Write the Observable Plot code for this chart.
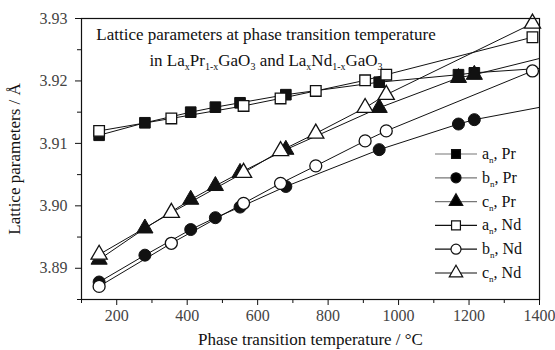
<!DOCTYPE html>
<html><head><meta charset="utf-8">
<script src="https://cdn.jsdelivr.net/npm/d3@7"></script>
<script src="https://cdn.jsdelivr.net/npm/@observablehq/plot@0.6"></script>
<style>
body{margin:0;background:#fff;}
#wrap{position:relative;width:555px;height:350px;font-family:"Liberation Serif","Times New Roman",serif;color:#111;}
#title{position:absolute;left:82px;width:368px;top:22px;text-align:center;font-size:17px;line-height:26px;white-space:nowrap;}
#title sub{font-size:10px;vertical-align:-4px;line-height:0;}
#legend{position:absolute;left:0;top:0;pointer-events:none;}
</style>
</head><body>
<div id="wrap"><div id="chart"></div><div id="title"></div><svg id="legend" width="555" height="350"></svg></div>
<script>
// ---- data ----
// La_xPr_(1-x)GaO3 (last temperature lies beyond the axis; line only)
const tempPr = [150, 280, 410, 480, 550, 680, 945, 1170, 1215, 1450];
const aPr    = [3.9113, 3.9133, 3.9150, 3.9158, 3.9165, 3.9178, 3.9198, 3.9210, 3.9213, 3.9222];
const bPr    = [3.8878, 3.8921, 3.8962, 3.8981, 3.8998, 3.9031, 3.9090, 3.9131, 3.9138, 3.9163];
const cPr    = [3.8914, 3.8964, 3.9010, 3.9032, 3.9053, 3.9090, 3.9157, 3.9205, 3.9210, 3.9243];
// La_xNd_(1-x)GaO3
const tempNd = [150, 355, 560, 665, 765, 905, 965, 1380];
const aNd    = [3.9120, 3.9140, 3.9160, 3.9172, 3.9184, 3.9201, 3.9210, 3.9270];
const bNd    = [3.8871, 3.8940, 3.9004, 3.9036, 3.9064, 3.9104, 3.9120, 3.9216];
const cNd    = [3.8922, 3.8989, 3.9053, 3.9088, 3.9116, 3.9157, 3.9178, 3.9292];

const xTicks = [200, 400, 600, 800, 1000, 1200, 1400];
const xMinor = [100, 300, 500, 700, 900, 1100, 1300];
const yTicks = [3.89, 3.90, 3.91, 3.92, 3.93];
const yMinor = [3.885, 3.895, 3.905, 3.915, 3.925];

const legendItems = [
  {sym: "square",   fill: "black", name: "a", tail: ", Pr"},
  {sym: "circle",   fill: "black", name: "b", tail: ", Pr"},
  {sym: "triangle", fill: "black", name: "c", tail: ", Pr"},
  {sym: "square",   fill: "white", name: "a", tail: ", Nd"},
  {sym: "circle",   fill: "white", name: "b", tail: ", Nd"},
  {sym: "triangle", fill: "white", name: "c", tail: ", Nd"}
];

const prRows = tempPr.map((t, i) => ({t, a: aPr[i], b: bPr[i], c: cPr[i]}));
const ndRows = tempNd.map((t, i) => ({t, a: aNd[i], b: bNd[i], c: cNd[i]}));

const R = 6;
const font = '"Liberation Serif","Times New Roman",serif';

const marks = [];
for (const k of ["a", "b", "c"]) {
  marks.push(Plot.line(prRows, {x: "t", y: k, stroke: "#111", strokeWidth: 1, clip: true}));
  marks.push(Plot.line(ndRows, {x: "t", y: k, stroke: "#111", strokeWidth: 1, clip: true}));
}
const symOf = {a: "square", b: "circle", c: "triangle"};
for (const k of ["a", "b", "c"]) {
  marks.push(Plot.dot(prRows, {x: "t", y: k, symbol: symOf[k], r: R, fill: "#111", stroke: "#111", strokeWidth: 1, clip: true}));
}
for (const k of ["a", "b", "c"]) {
  marks.push(Plot.dot(ndRows, {x: "t", y: k, symbol: symOf[k], r: R, fill: "white", stroke: "#111", strokeWidth: 1.3}));
}

const blank = () => "";
const chart = Plot.plot({
  width: 555, height: 350,
  marginLeft: 81, marginRight: 16, marginTop: 18, marginBottom: 51,
  style: {fontFamily: font, background: "white", color: "#111", overflow: "visible"},
  x: {domain: [100, 1400]},
  y: {domain: [3.885, 3.93]},
  marks: [
    ...marks,
    Plot.frame({stroke: "#111", strokeWidth: 1.2}),
    Plot.axisX({ticks: xTicks, tickSize: 6, tickPadding: 4, fontSize: 16, fontFamily: font, fill: "#444", tickFormat: d3.format("d"),
      label: "Phase transition temperature / °C", labelArrow: "none", labelAnchor: "center", labelOffset: 45}),
    Plot.axisX({ticks: xMinor, tickSize: 4, tickFormat: blank, label: null}),
    Plot.axisY({ticks: yTicks, tickSize: 6, tickPadding: 8, fontSize: 16, fontFamily: font, fill: "#444", tickFormat: d3.format(".2f"),
      label: "Lattice parameters / Å", labelArrow: "none", labelAnchor: "center", labelOffset: 74}),
    Plot.axisY({ticks: yMinor, tickSize: 4, tickFormat: blank, label: null})
  ]
});
const sel = d3.select(chart);
sel.selectAll("text").attr("font-family", font).style("font-family", font);
sel.selectAll("g[aria-label='x-axis label'] text, g[aria-label='y-axis label'] text")
  .attr("font-size", 17).attr("fill", "#111");
document.getElementById("chart").appendChild(chart);

document.getElementById("title").innerHTML =
  "Lattice parameters at phase transition temperature<br>" +
  "in La<sub>x</sub>Pr<sub>1-x</sub>GaO<sub>3</sub> and La<sub>x</sub>Nd<sub>1-x</sub>GaO<sub>3</sub>";

// legend (overlay, inside the plot frame)
const lg = d3.select("#legend");
const rowY = i => 154 + i * 23.8;
legendItems.forEach((it, i) => {
  const g = lg.append("g").attr("transform", `translate(0,${rowY(i)})`);
  g.append("line").attr("x1", 435).attr("x2", 477)
    .attr("stroke", it.fill === "black" ? "#777" : "#111").attr("stroke-width", 1.2);
  const symType = {square: d3.symbolSquare, circle: d3.symbolCircle, triangle: d3.symbolTriangle}[it.sym];
  g.append("path").attr("transform", "translate(456,0)")
    .attr("d", d3.symbol(symType, Math.PI * 5 * 5)())
    .attr("fill", it.fill).attr("stroke", "#111").attr("stroke-width", 1.2);
  const t = g.append("text").attr("x", 482).attr("y", 5).attr("font-family", font).attr("font-size", 16).attr("fill", "#111");
  t.append("tspan").text(it.name);
  t.append("tspan").attr("font-size", 9).attr("dy", 4).text("n");
  t.append("tspan").attr("dy", -4).text(it.tail);
});
</script>
</body></html>
